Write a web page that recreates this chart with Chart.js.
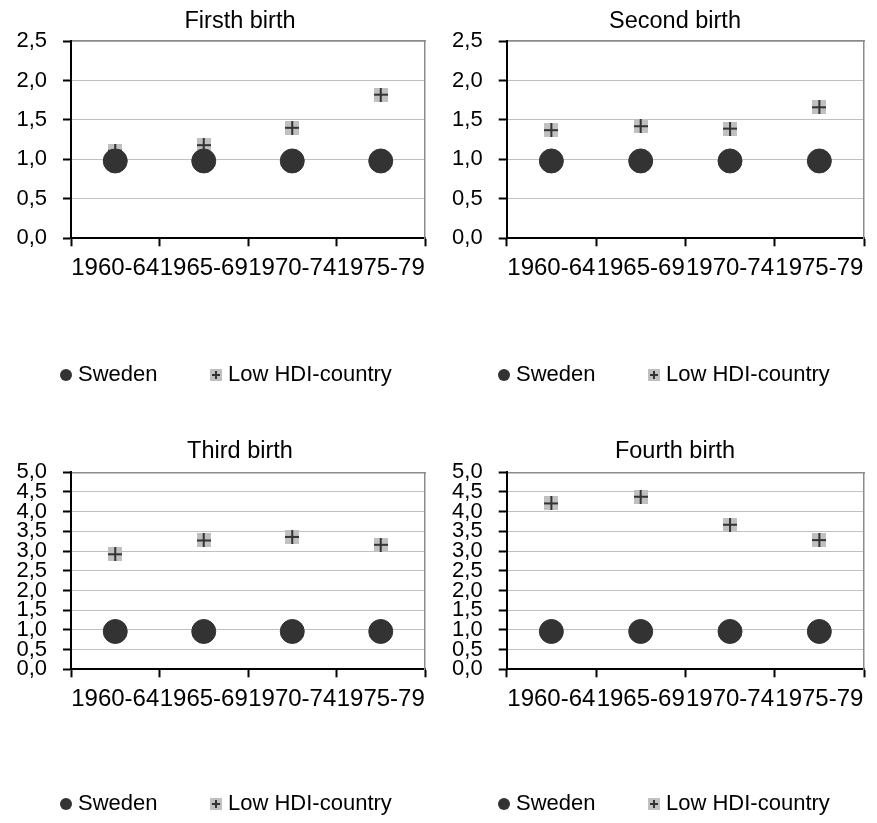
<!DOCTYPE html>
<html>
<head>
<meta charset="utf-8">
<script src="https://cdn.jsdelivr.net/npm/chart.js@4/dist/chart.umd.min.js"></script>
<style>
  html, body { margin: 0; padding: 0; background: #fff; overflow: hidden; }
  #wrap { position: relative; width: 877px; height: 823px; }
  #wrap canvas { position: absolute; }
</style>
</head>
<body>
<div id="wrap">
  <canvas id="first"  width="438" height="430" style="left:0;top:0"></canvas>
  <canvas id="second" width="439" height="430" style="left:438px;top:0"></canvas>
  <canvas id="third"  width="438" height="393" style="left:0;top:430px"></canvas>
  <canvas id="fourth" width="439" height="393" style="left:438px;top:430px"></canvas>
</div>
<script>
// Birth-order relative risks by birth cohort, Sweden = reference
const periods = ['1960-64', '1965-69', '1970-74', '1975-79'];
const seriesNames = ['Sweden', 'Low HDI-country'];
const panelTitles = ['Firsth birth', 'Second birth', 'Third birth', 'Fourth birth'];

const swedenFirst  = [0.98, 0.98, 0.98, 0.98];
const swedenSecond = [0.98, 0.98, 0.98, 0.98];
const swedenThird  = [0.96, 0.96, 0.96, 0.96];
const swedenFourth = [0.96, 0.96, 0.96, 0.96];

const lowHdiFirst  = [1.11, 1.18, 1.40, 1.82];
const lowHdiSecond = [1.37, 1.42, 1.39, 1.66];
const lowHdiThird  = [2.92, 3.27, 3.36, 3.16];
const lowHdiFourth = [4.21, 4.38, 3.67, 3.28];

const yTicksLow  = ['0,0', '0,5', '1,0', '1,5', '2,0', '2,5'];
const yTicksHigh = ['0,0', '0,5', '1,0', '1,5', '2,0', '2,5', '3,0', '3,5', '4,0', '4,5', '5,0'];

const FONT = "'Liberation Sans', Arial, sans-serif";
const DARK = '#333333';

// grey square with a dark cross, used as the Low HDI marker
function plusMarker(size, arm, lw) {
  const c = document.createElement('canvas');
  c.width = c.height = size;
  const g = c.getContext('2d');
  g.fillStyle = '#c0c0c0';
  g.fillRect(0, 0, size, size);
  g.strokeStyle = DARK;
  g.lineWidth = lw;
  const m = size / 2;
  g.beginPath();
  g.moveTo(m - arm, m); g.lineTo(m + arm, m);
  g.moveTo(m, m - arm); g.lineTo(m, m + arm);
  g.stroke();
  return c;
}
const hdiMark = plusMarker(14, 7, 2);
const hdiLegendMark = plusMarker(12, 4, 2);

function makeChart(id, o) {
  return new Chart(document.getElementById(id), {
    type: 'line',
    data: {
      labels: periods,
      datasets: [
        {
          label: seriesNames[0], data: o.sweden, showLine: false,
          pointStyle: 'circle', pointRadius: 12, pointHoverRadius: 12,
          pointBackgroundColor: DARK, pointBorderColor: DARK, pointBorderWidth: 1
        },
        {
          label: seriesNames[1], data: o.hdi, showLine: false,
          pointStyle: hdiMark, pointRadius: 7, pointHoverRadius: 7
        }
      ]
    },
    options: {
      responsive: false,
      animation: false,
      devicePixelRatio: 1,
      events: [],
      layout: { padding: { left: o.padL, right: o.padR, top: 0, bottom: o.padB } },
      plugins: {
        title: {
          display: true, text: o.title, color: '#000',
          font: { family: FONT, size: 23.5, weight: 'normal' },
          padding: { top: 7.2, bottom: 0 }
        },
        legend: {
          position: 'bottom', align: 'start',
          labels: {
            usePointStyle: true, boxWidth: 2, boxHeight: 8.5, padding: 57.5,
            color: '#000', font: { family: FONT, size: 22 },
            generateLabels: chart => chart.data.datasets.map((ds, i) => ({
              text: ds.label,
              fillStyle: DARK, strokeStyle: DARK, lineWidth: 0,
              pointStyle: i === 0 ? 'circle' : hdiLegendMark,
              hidden: false, datasetIndex: i, fontColor: '#000'
            }))
          }
        },
        tooltip: { enabled: false }
      },
      scales: {
        x: {
          type: 'category', position: 'bottom', offset: true,
          grid: { offset: true, drawOnChartArea: false, tickLength: 8, tickColor: '#000', tickWidth: 2 },
          border: { color: '#000', width: 2 },
          ticks: { autoSkip: false, maxRotation: 0, minRotation: 0, padding: 7.5, color: '#000', font: { family: FONT, size: 24 } },
          afterFit: s => { s.height = o.xH; }
        },
        xTop: {
          type: 'category', position: 'top', offset: true,
          grid: { display: false }, ticks: { display: false },
          border: { color: '#8c8c8c', width: 1.5 },
          afterFit: s => { s.height = o.topH; }
        },
        y: {
          min: 0, max: o.max,
          ticks: { stepSize: 0.5, autoSkip: false, padding: 16, color: '#000', font: { family: FONT, size: 22 },
                   callback: (v, i) => o.yLabels[i] },
          grid: { color: '#c0c0c0', lineWidth: 1, tickLength: 8, tickColor: '#000', tickWidth: 2 },
          border: { color: '#000', width: 2 },
          afterFit: s => { s.width = o.yW; }
        },
        yRight: {
          position: 'right', min: 0, max: o.max,
          grid: { display: false }, ticks: { display: false },
          border: { color: '#8c8c8c', width: 1.5 },
          afterFit: s => { s.width = o.rW; }
        }
      }
    }
  });
}

const leftCol  = { padL: 7.5, padR: -34.5, yW: 63.5, rW: 44.5 };
const rightCol = { padL: 7.5, padR: -27.5, yW: 61.2, rW: 39.5 };
const topRow    = { padB: 34, xH: 68.2, topH: 5.6, max: 2.5, yLabels: yTicksLow };
const bottomRow = { padB: -2, xH: 66.2, topH: 6.9, max: 5, yLabels: yTicksHigh };

makeChart('first',  Object.assign({ title: panelTitles[0], sweden: swedenFirst,  hdi: lowHdiFirst },  leftCol,  topRow));
makeChart('second', Object.assign({ title: panelTitles[1], sweden: swedenSecond, hdi: lowHdiSecond }, rightCol, topRow));
makeChart('third',  Object.assign({ title: panelTitles[2], sweden: swedenThird,  hdi: lowHdiThird },  leftCol,  bottomRow));
makeChart('fourth', Object.assign({ title: panelTitles[3], sweden: swedenFourth, hdi: lowHdiFourth }, rightCol, bottomRow));
</script>
</body>
</html>
